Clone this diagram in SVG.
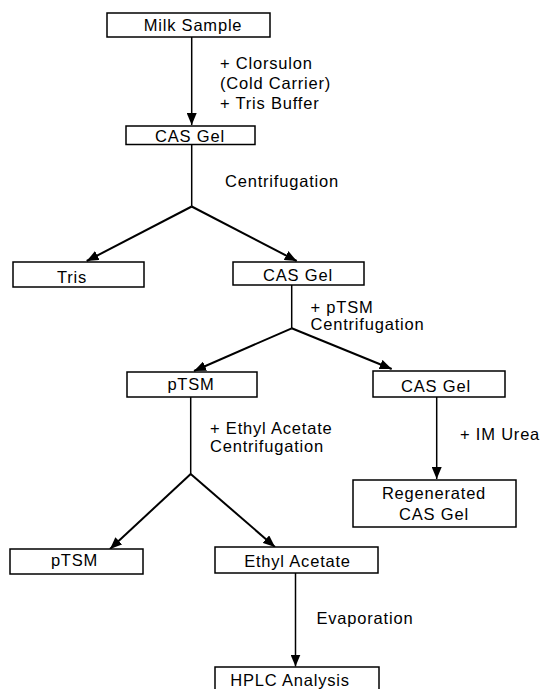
<svg xmlns="http://www.w3.org/2000/svg" width="545" height="689" viewBox="0 0 545 689">
  <defs>
    <marker id="arr" viewBox="0 0 12 10" refX="12" refY="5" markerWidth="12" markerHeight="10" markerUnits="userSpaceOnUse" orient="auto">
      <path d="M0,0 L12,5 L0,10 Z" fill="#000"/>
    </marker>
    <style>
      .box { fill: #fff; stroke: #000; stroke-width: 1.5; }
      .lbl { font-family: "Liberation Sans", Arial, sans-serif; font-size: 16.5px; letter-spacing: 0.8px; fill: #000; }
      .c { text-anchor: middle; }
      .ln { fill: none; stroke: #000; stroke-width: 1.5; }
      .dg { fill: none; stroke: #000; stroke-width: 2; }
    </style>
  </defs>
  <rect width="545" height="689" fill="#fff"/>

  <g id="connectors">
    <line class="ln" x1="191.7" y1="37" x2="191.7" y2="125" marker-end="url(#arr)"/>
    <line class="ln" x1="191.7" y1="144" x2="191.7" y2="206.5"/>
    <line class="dg" x1="191.7" y1="206.5" x2="86.7" y2="261" marker-end="url(#arr)"/>
    <line class="dg" x1="191.7" y1="206.5" x2="296.7" y2="261" marker-end="url(#arr)"/>
    <line class="ln" x1="291.7" y1="285" x2="291.7" y2="328.3"/>
    <line class="dg" x1="291.7" y1="328.3" x2="194" y2="371" marker-end="url(#arr)"/>
    <line class="dg" x1="291.7" y1="328.3" x2="391.7" y2="369" marker-end="url(#arr)"/>
    <line class="ln" x1="190.7" y1="397" x2="190.7" y2="474"/>
    <line class="dg" x1="190.7" y1="474" x2="110" y2="549" marker-end="url(#arr)"/>
    <line class="dg" x1="190.7" y1="474" x2="275" y2="547" marker-end="url(#arr)"/>
    <line class="ln" x1="436.7" y1="397" x2="436.7" y2="479" marker-end="url(#arr)"/>
    <line class="ln" x1="295.5" y1="573" x2="295.5" y2="666.5" marker-end="url(#arr)"/>
  </g>

  <g id="labels">
    <text class="lbl" x="220" y="68.5">+ Clorsulon</text>
    <text class="lbl" x="220" y="89">(Cold Carrier)</text>
    <text class="lbl" x="220" y="109">+ Tris Buffer</text>
    <text class="lbl" x="225" y="186.5">Centrifugation</text>
    <text class="lbl" x="310.5" y="312.5">+ pTSM</text>
    <text class="lbl" x="310.5" y="330">Centrifugation</text>
    <text class="lbl" x="210" y="434">+ Ethyl Acetate</text>
    <text class="lbl" x="210" y="451.5">Centrifugation</text>
    <text class="lbl" x="460" y="440">+ IM Urea</text>
    <text class="lbl" x="316.5" y="624">Evaporation</text>
  </g>

  <g id="milk-sample">
    <rect class="box" x="107" y="13" width="163" height="24"/>
    <text class="lbl c" x="193" y="31">Milk Sample</text>
  </g>
  <g id="cas-gel-1">
    <rect class="box" x="126" y="126" width="129" height="18.5"/>
    <text class="lbl c" x="190" y="142">CAS Gel</text>
  </g>
  <g id="tris">
    <rect class="box" x="13" y="262" width="131" height="25"/>
    <text class="lbl c" x="72" y="282.5">Tris</text>
  </g>
  <g id="cas-gel-2">
    <rect class="box" x="233" y="262" width="131" height="23"/>
    <text class="lbl c" x="298" y="280.5">CAS Gel</text>
  </g>
  <g id="ptsm-1">
    <rect class="box" x="127" y="372" width="130" height="25"/>
    <text class="lbl c" x="191" y="390">pTSM</text>
  </g>
  <g id="cas-gel-3">
    <rect class="box" x="373" y="371" width="132" height="26"/>
    <text class="lbl c" x="436" y="391.5">CAS Gel</text>
  </g>
  <g id="regenerated-cas-gel">
    <rect class="box" x="353" y="480" width="163" height="47"/>
    <text class="lbl c" x="434" y="498.5">Regenerated</text>
    <text class="lbl c" x="434" y="519.5">CAS Gel</text>
  </g>
  <g id="ptsm-2">
    <rect class="box" x="10" y="549" width="133" height="25"/>
    <text class="lbl c" x="74.5" y="566">pTSM</text>
  </g>
  <g id="ethyl-acetate">
    <rect class="box" x="215" y="547" width="163" height="26"/>
    <text class="lbl c" x="297.5" y="566.5">Ethyl Acetate</text>
  </g>
  <g id="hplc-analysis">
    <rect class="box" x="215" y="667" width="164" height="30"/>
    <text class="lbl c" x="290" y="686">HPLC Analysis</text>
  </g>
</svg>
